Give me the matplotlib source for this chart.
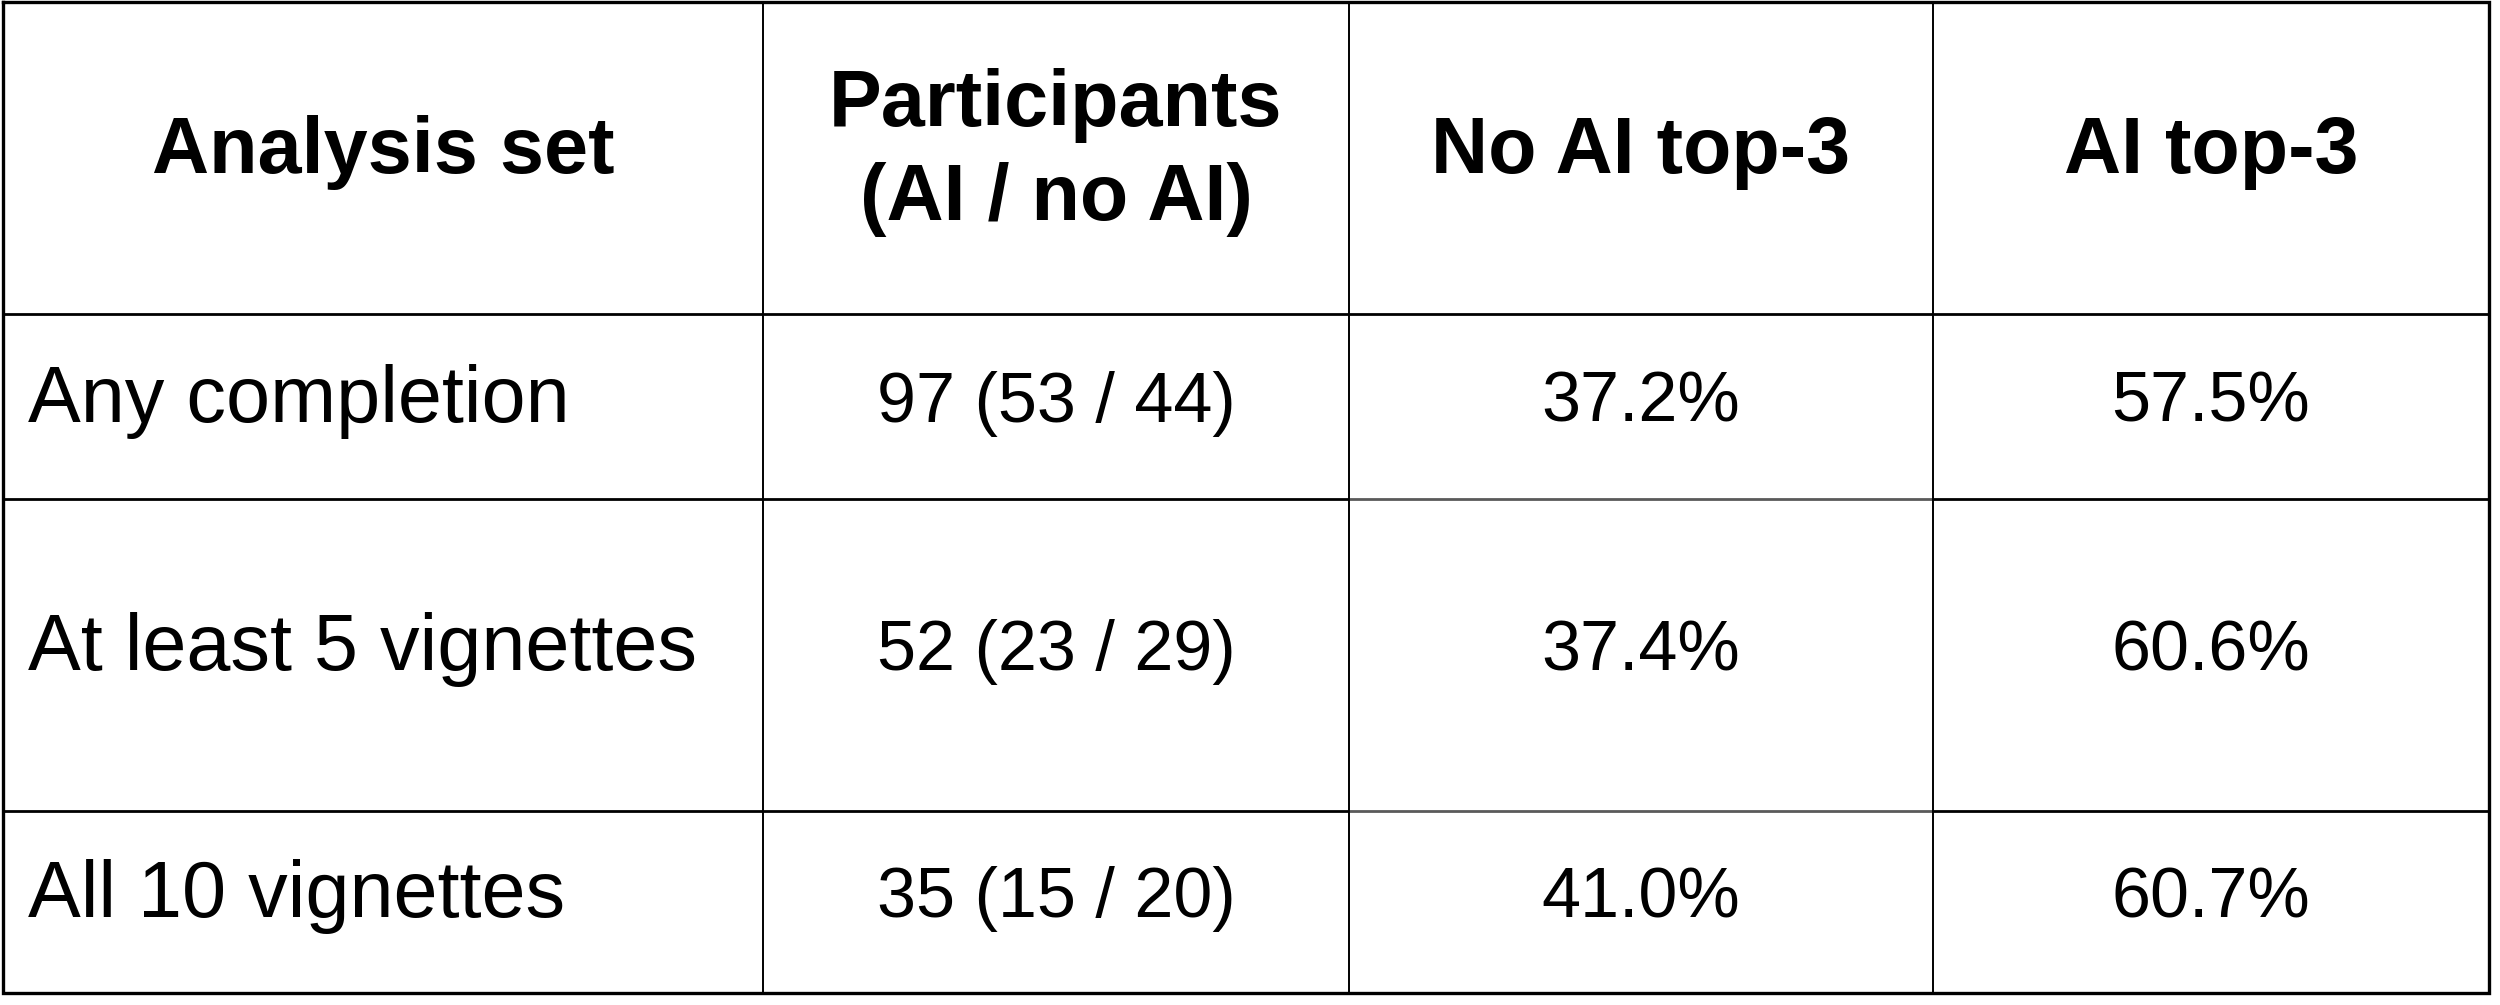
import matplotlib.pyplot as plt

plt.rcParams['font.family'] = ['Liberation Sans', 'DejaVu Sans']

# table content
headers = ['Analysis set', 'Participants\n(AI / no AI)', 'No AI top-3', 'AI top-3']
analysis_sets = ['Any completion', 'At least 5 vignettes', 'All 10 vignettes']
participants = ['97 (53 / 44)', '52 (23 / 29)', '35 (15 / 20)']
no_ai_top3 = ['37.2%', '37.4%', '41.0%']
ai_top3 = ['57.5%', '60.6%', '60.7%']

# layout in pixels
W, H = 2500, 1005
col_edges = [3, 763, 1349, 1933, 2489]
row_edges = [2, 314, 499, 811, 993]
fs = 57
fs_num = 50.5
line_gap = 94
base_off = 15

fig = plt.figure(figsize=(W / 100, H / 100), dpi=100)
ax = fig.add_axes([0, 0, 1, 1])
ax.set_xlim(0, W)
ax.set_ylim(H, 0)
ax.axis('off')

# inner horizontal lines (middle column segment drawn grey)
for r in row_edges[1:-1]:
    for c in range(4):
        color = '#5a5a5a' if (c == 2 and r != row_edges[1]) else 'black'
        ax.plot([col_edges[c], col_edges[c + 1]], [r, r], color=color, lw=2.0,
                solid_capstyle='butt')
# inner vertical lines
for c in col_edges[1:-1]:
    ax.plot([c, c], [row_edges[0], row_edges[-1]], color='black', lw=1.4,
            solid_capstyle='butt')
# outer border
x0, x1 = col_edges[0], col_edges[-1]
y0, y1 = row_edges[0], row_edges[-1]
ax.plot([x0, x1, x1, x0, x0], [y0, y0, y1, y1, y0], color='black', lw=2.4,
        solid_joinstyle='miter')


def cell_text(text, c, r, bold=False, left=False, size=fs):
    cy = (row_edges[r] + row_edges[r + 1]) / 2
    lines = text.split('\n')
    n = len(lines)
    if left:
        x, ha = col_edges[c] + 25, 'left'
    else:
        x, ha = (col_edges[c] + col_edges[c + 1]) / 2, 'center'
    for i, ln in enumerate(lines):
        y = cy + base_off + (i - (n - 1) / 2) * line_gap
        ax.text(x, y, ln, ha=ha, va='baseline', fontsize=size,
                fontweight='bold' if bold else 'normal', color='black')


for c, h in enumerate(headers):
    cell_text(h, c, 0, bold=True)

rows = list(zip(analysis_sets, participants, no_ai_top3, ai_top3))
for r, vals in enumerate(rows, start=1):
    for c, v in enumerate(vals):
        if c == 0:
            cell_text(v, c, r, left=True)
        else:
            cell_text(v, c, r, size=fs_num)

fig.savefig('out.png', dpi=100, facecolor='white')
